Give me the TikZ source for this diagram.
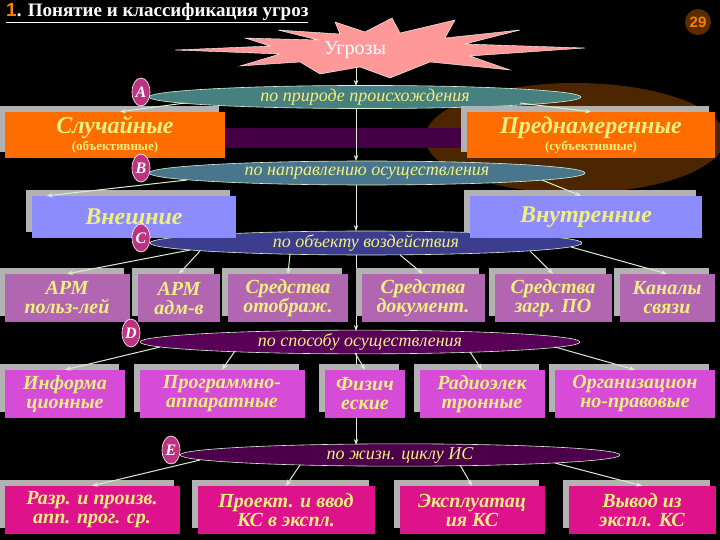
\documentclass[tikz,border=0pt]{standalone}
\usepackage{fontspec}
\setmainfont{Liberation Serif}
\newfontfamily\sansf{Liberation Sans}
\usetikzlibrary{arrows.meta,shapes.geometric}
\definecolor{ylw}{HTML}{F0F080}
\definecolor{ln}{HTML}{D8F0D0}
\begin{document}
\begin{tikzpicture}[x=1pt,y=-1pt,
 bx/.style={draw=none,fill=#1,text=ylw,inner sep=0pt,align=center,font=\bfseries\itshape\fontsize{20}{19}\selectfont,
   preaction={fill=gray!60,transform canvas={shift={(-6pt,6pt)}}}},
 ell/.style={ellipse,fill=#1,draw=ln,line width=0.6pt,text=ylw,font=\itshape\fontsize{18}{18}\selectfont,inner sep=0pt},
 lt/.style={ellipse,fill=magenta!75!black,draw=white,line width=0.6pt,text=white,font=\bfseries\itshape\fontsize{16}{16}\selectfont,minimum width=18pt,minimum height=28pt,inner sep=0pt},
 ar/.style={-{Stealth[length=6pt]},draw=ln,line width=1pt}]
\fill[black] (0,0) rectangle (720,540);
\useasboundingbox (0,0) rectangle (720,540);
% title
\node[anchor=west,text=white,font=\bfseries\fontsize{19}{20}\selectfont,inner sep=0pt] (title) at (6,13) {\underline{{\sansf\color{orange}1}. Понятие и классификация угроз}};
\node[circle,fill=orange!35!black,text=orange,font=\sansf\bfseries\fontsize{15}{15}\selectfont,minimum size=26pt,inner sep=0pt] (num) at (698,22) {29};
% glow
\fill[orange!30!black] (575,138) ellipse (150 and 55);
% star
\fill[red!40!white,draw=white] (245,38)--(318,40)--(278,30)--(340,34)--(335,22)--(365,32)--(392,18)--(400,33)--(455,20)--(445,38)--(520,30)--(465,44)--(585,48)--(470,56)--(510,70)--(430,62)--(390,78)--(360,67)--(320,74)--(300,62)--(240,66)--(280,54)--(175,50)--(270,46)--cycle;
\node[text=white,font=\fontsize{20}{20}\selectfont] (ugr) at (355,50) {Угрозы};
% purple bar
\fill[violet!55!black] (225,128) rectangle (467,148);
\coordinate (top) at (356,67);
% ellipses
\node[ell=teal!45!gray,minimum width=432pt,minimum height=22pt] (A) at (365,97) {по природе происхождения};
\node[ell=cyan!50!black,minimum width=436pt,minimum height=24pt] (B) at (367,173) {по направлению осуществления};
\node[ell=blue!40!gray!80!black,minimum width=432pt,minimum height=24pt] (C) at (366,243) {по объекту воздействия};
\node[ell=violet!70!black,minimum width=440pt,minimum height=22pt] (D) at (360,342) {по способу осуществления};
\node[ell=violet!60!black,minimum width=440pt,minimum height=22pt] (E) at (400,455) {по жизн. циклу ИС};
\coordinate (a1) at (356,86);
\coordinate (a2) at (356,108);
\coordinate (b1) at (356,161);
\coordinate (b2) at (356,185);
\coordinate (c1) at (356,231);
\coordinate (c2) at (356,255);
\coordinate (d1) at (356,331);
\coordinate (d2) at (356,353);
\coordinate (e1) at (356,445);
\draw[ar] (top) -- (a1);
\draw[ar] (a2) -- (b1);
\draw[ar] (b2) -- (c1);
\draw[ar] (c2) -- (d1);
\draw[ar] (d2) -- (e1);
% boxes
\node[bx=orange!85!red,minimum width=220pt,minimum height=46pt] (s) at (115,135) {\fontsize{24}{22}\selectfont Случайные\\[-2pt]\normalfont\bfseries\fontsize{13}{13}\selectfont(объективные)};
\node[bx=orange!85!red,minimum width=248pt,minimum height=46pt] (p) at (591,135) {\fontsize{24}{22}\selectfont Преднамеренные\\[-2pt]\normalfont\bfseries\fontsize{13}{13}\selectfont(субъективные)};
\node[bx=blue!45!white,minimum width=204pt,minimum height=42pt] (vn) at (134,217) {\fontsize{24}{22}\selectfont Внешние};
\node[bx=blue!45!white,minimum width=232pt,minimum height=42pt] (vt) at (586,217) {\fontsize{24}{22}\selectfont Внутренние};
\def\rA{violet!60!white}
\node[bx=\rA,minimum width=125pt,minimum height=48pt] (r1) at (67,298) {АРМ\\польз-лей};
\node[bx=\rA,minimum width=82pt,minimum height=48pt] (r2) at (179,298) {АРМ\\адм-в};
\node[bx=\rA,minimum width=120pt,minimum height=48pt] (r3) at (288,298) {Средства\\отображ.};
\node[bx=\rA,minimum width=123pt,minimum height=48pt] (r4) at (423,298) {Средства\\документ.};
\node[bx=\rA,minimum width=117pt,minimum height=48pt] (r5) at (553,298) {Средства\\загр. ПО};
\node[bx=\rA,minimum width=95pt,minimum height=48pt] (r6) at (667,298) {Каналы\\связи};
\def\rB{violet!45!magenta!70!white}
\node[bx=\rB,minimum width=120pt,minimum height=48pt] (q1) at (65,394) {Информа\\ционные};
\node[bx=\rB,minimum width=165pt,minimum height=48pt] (q2) at (222,394) {Программно-\\аппаратные};
\node[bx=\rB,minimum width=80pt,minimum height=48pt] (q3) at (365,394) {Физич\\еские};
\node[bx=\rB,minimum width=125pt,minimum height=48pt] (q4) at (482,394) {Радиоэлек\\тронные};
\node[bx=\rB,minimum width=160pt,minimum height=48pt] (q5) at (635,394) {Организацион\\но-правовые};
\def\rC{magenta!85!violet}
\node[bx=\rC,minimum width=175pt,minimum height=48pt] (z1) at (92,510) {Разр. и произв.\\апп. прог. ср.};
\node[bx=\rC,minimum width=177pt,minimum height=48pt] (z2) at (286,510) {Проект. и ввод\\КС в экспл.};
\node[bx=\rC,minimum width=145pt,minimum height=48pt] (z3) at (472,510) {Эксплуатац\\ия КС};
\node[bx=\rC,minimum width=147pt,minimum height=48pt] (z4) at (642,510) {Вывод из\\экспл. КС};
% letters
\node[lt] (la) at (141,92) {A};
\node[lt] (lb) at (141,168) {B};
\node[lt] (lc) at (141,238) {C};
\node[lt] (ld) at (131,333) {D};
\node[lt] (le) at (171,450) {E};
% branch arrows
\draw[ar] ([shift={(-180,6)}]A.center) -- ([xshift=5pt]s.north);
\draw[ar] ([shift={(155,6)}]A.center) -- (p.north);
\draw[ar] ([shift={(-180,7)}]B.center) -- ([xshift=15pt]vn.north west);
\draw[ar] ([shift={(175,7)}]B.center) -- ([xshift=-5pt]vt.north);
\draw[ar] ([shift={(-176,7)}]C.center) -- (r1.north);
\draw[ar] ([shift={(-166,8)}]C.center) -- (r2.north);
\draw[ar] ([shift={(-76,11)}]C.center) -- (r3.north);
\draw[ar] ([shift={(34,12)}]C.center) -- (r4.north);
\draw[ar] ([shift={(164,8)}]C.center) -- (r5.north);
\draw[ar] ([shift={(205,4)}]C.center) -- (r6.north);
\draw[ar] ([shift={(-200,5)}]D.center) -- (q1.north);
\draw[ar] ([shift={(-125,9)}]D.center) -- (q2.north);
\draw[ar] ([shift={(-5,11)}]D.center) -- (q3.north);
\draw[ar] ([shift={(110,10)}]D.center) -- (q4.north);
\draw[ar] ([shift={(195,5)}]D.center) -- (q5.north);
\draw[ar] ([shift={(-200,5)}]E.center) -- (z1.north);
\draw[ar] ([shift={(-100,10)}]E.center) -- (z2.north);
\draw[ar] ([shift={(60,10)}]E.center) -- (z3.north);
\draw[ar] ([shift={(155,8)}]E.center) -- (z4.north);
\end{tikzpicture}
\end{document}
